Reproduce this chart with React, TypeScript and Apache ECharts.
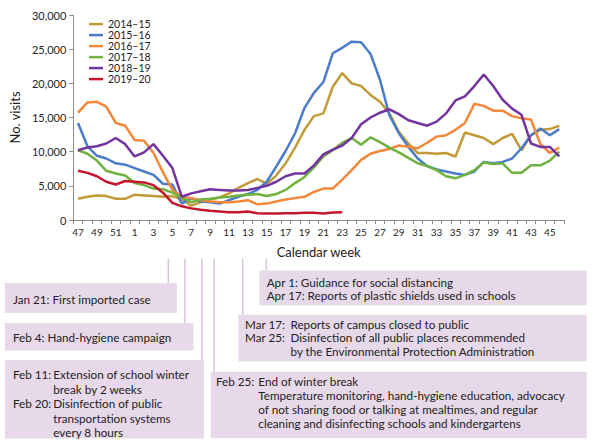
import React, { useEffect, useRef } from "react";
import * as echarts from "echarts";

const weeks = ["47","48","49","50","51","52","1","2","3","4","5","6","7","8","9","10","11","12","13","14","15","16","17","18","19","20","21","22","23","24","25","26","27","28","29","30","31","32","33","34","35","36","37","38","39","40","41","42","43","44","45","46"];

const seasonNames = ["2014–15", "2015–16", "2016–17", "2017–18", "2018–19", "2019–20"];
const seasonColors = ["#C29A38", "#4A7CC9", "#F5873A", "#6FB23F", "#7334A0", "#C6162E"];

const s1415 = [3100,3400,3600,3500,3100,3100,3700,3600,3500,3400,3500,3000,2100,2600,3000,3300,3900,4700,5400,6000,5300,6500,8300,10600,13200,15200,15600,19500,21500,20000,19600,18300,17300,15600,12900,11200,9800,9800,9700,9800,9300,12800,12400,12000,11100,12000,12600,10200,12400,13200,13300,13800];
const s1516 = [14200,10800,9400,9000,8300,8100,7600,7100,6600,5300,5200,2400,3200,2700,2600,2400,2900,3400,3800,4400,5600,7800,10100,12700,16400,18600,20200,24400,25200,26100,26000,24300,20500,15300,12700,10700,9000,7900,7400,7100,6800,6600,7100,8500,8300,8500,9000,10500,12400,13400,12400,13300];
const s1617 = [15700,17200,17300,16600,14200,13800,11700,11600,9800,7000,4400,3400,3200,2900,2700,2600,2600,2700,2900,2300,2400,2700,3000,3200,3400,4100,4600,4600,5900,7300,8800,9700,10100,10400,10900,10700,10500,11300,12200,12400,13200,14200,17000,16700,16000,16000,15200,14900,14700,11100,9800,10600];
const s1718 = [10200,9700,8700,7200,6800,6500,5400,5100,4600,4500,4000,3300,2600,3000,3100,3300,3400,3600,3700,3800,3500,3800,4400,5400,6300,7700,9300,10200,11300,12000,11000,12100,11400,10600,9900,9100,8300,7900,7300,6400,6100,6600,7300,8400,8200,8300,6900,6900,8000,8000,8700,10000];
const s1819 = [10200,10600,10800,11200,12000,11100,9300,9900,11100,9400,7600,3400,3900,4200,4500,4400,4300,4300,4400,4700,5000,5600,6400,6800,6800,8000,9600,10300,10900,12000,14000,15000,15700,16200,15500,14600,14200,13800,14400,15600,17500,18100,19600,21300,19600,17600,16300,15400,11200,10700,10700,9300];
const s1920 = [7200,6900,6400,5600,5200,5700,5600,5500,5100,4000,2500,2000,1700,1500,1350,1250,1150,1150,1250,1000,950,950,1000,1000,1050,1050,950,1100,1150];

const seriesValues = [s1415, s1516, s1617, s1718, s1819, s1920];

const yMax = 30000;
const yStep = 5000;

// Annotation texts
const annJan = ["Jan 21: First imported case"];
const annFeb4 = ["Feb 4: Hand-hygiene campaign"];
const annFeb11Heads = ["Feb 11:", "Feb 20:"];
const annFeb11Lines = ["Extension of school winter", "break by 2 weeks", "Disinfection of public", "transportation systems", "every 8 hours"];
const annFeb25Head = "Feb 25:";
const annFeb25Lines = ["End of winter break", "Temperature monitoring, hand-hygiene education, advocacy", "of not sharing food or talking at mealtimes, and regular", "cleaning and disinfecting schools and kindergartens"];
const annMarHeads = ["Mar 17:", "Mar 25:"];
const annMarLines = ["Reports of campus closed to public", "Disinfection of all public places recommended", "by the Environmental Protection Administration"];
const annApr = ["Apr 1: Guidance for social distancing", "Apr 17: Reports of plastic shields used in schools"];

const FONT = "Lato";
const BOX_FILL = "#E8D9EA";
const LINK = "#D8C3DB";
const TXT = "#222222";
const AF = `11.7px ${FONT}`;

function txt(x: number, y: number, s: string) {
  return { type: "text", x, y, silent: true, style: { text: s, fill: TXT, font: AF, verticalAlign: "middle", align: "left" } };
}
function rect(x: number, y: number, w: number, h: number) {
  return { type: "rect", silent: true, shape: { x, y, width: w, height: h }, style: { fill: BOX_FILL } };
}
function link(x: number, y1: number, y2: number) {
  return { type: "line", silent: true, shape: { x1: x, y1, x2: x, y2 }, style: { stroke: LINK, lineWidth: 1.5 } };
}

function buildGraphic() {
  const g: any[] = [];
  const top = 259;
  g.push(link(168.3, top, 283), link(185, top, 323), link(202, top, 360), link(214, top, 372), link(242.7, top, 315), link(266.3, top, 271));
  // Jan 21
  g.push(rect(5, 283, 172, 30));
  g.push(txt(13, 298.5, annJan[0]));
  // Feb 4
  g.push(rect(5, 323, 188.5, 27.5));
  g.push(txt(13, 336.8, annFeb4[0]));
  // Feb 11 / Feb 20
  g.push(rect(5, 360, 199, 78.5));
  const f11y = [374, 388.5, 403.2, 417.8, 432.2];
  g.push(txt(13, f11y[0], annFeb11Heads[0]), txt(13, f11y[2], annFeb11Heads[1]));
  annFeb11Lines.forEach((s, i) => g.push(txt(53.3, f11y[i], s)));
  // Feb 25
  g.push(rect(210.7, 371.7, 376, 66.3));
  const f25y = [380.5, 395, 409.2, 423.4];
  g.push(txt(216, f25y[0], annFeb25Head));
  annFeb25Lines.forEach((s, i) => g.push(txt(258.3, f25y[i], s)));
  // Mar
  g.push(rect(238.3, 314.7, 348.4, 46.6));
  const mary = [324, 337.3, 350.6];
  g.push(txt(245, mary[0], annMarHeads[0]), txt(245, mary[1], annMarHeads[1]));
  annMarLines.forEach((s, i) => g.push(txt(290.5, mary[i], s)));
  // Apr
  g.push(rect(259.3, 270.5, 327.4, 34.8));
  g.push(txt(266.7, 281.5, annApr[0]), txt(266.7, 295, annApr[1]));
  return g;
}

export default function App() {
  const ref = useRef<HTMLDivElement>(null);
  useEffect(() => {
    if (!ref.current) return;
    const chart = echarts.init(ref.current, null, { renderer: "svg" });
    chart.setOption({
      animation: false,
      backgroundColor: "#ffffff",
      textStyle: { fontFamily: FONT },
      grid: { left: 68, top: 15, width: 496, height: 205, containLabel: false },
      legend: {
        left: 89,
        top: 18.6,
        orient: "vertical",
        padding: 0,
        itemGap: 0,
        itemWidth: 14,
        itemHeight: 2.5,
        icon: "rect",
        textStyle: { fontSize: 10.5, lineHeight: 10.7, color: TXT, fontFamily: FONT },
        data: seasonNames,
      },
      xAxis: {
        type: "category",
        data: weeks,
        boundaryGap: true,
        name: "Calendar week",
        nameLocation: "middle",
        nameGap: 25,
        nameTextStyle: { fontSize: 13, color: "#1a1a1a", fontFamily: FONT },
        axisLine: { lineStyle: { color: "#8c8c8c", width: 1 } },
        axisTick: { show: true, interval: 0, length: 4, lineStyle: { color: "#8c8c8c" } },
        axisLabel: { interval: 1, fontSize: 10, color: "#262626", margin: 7, fontFamily: FONT },
        splitLine: { show: false },
      },
      yAxis: {
        type: "value",
        min: 0,
        max: yMax,
        interval: yStep,
        name: "No. visits",
        nameLocation: "middle",
        nameGap: 40,
        nameTextStyle: { fontSize: 13, color: "#1a1a1a", fontFamily: FONT },
        axisLine: { show: true, lineStyle: { color: "#8c8c8c", width: 1 } },
        axisTick: { show: true, length: 4, lineStyle: { color: "#8c8c8c" } },
        axisLabel: { fontSize: 11, color: "#262626", margin: 7, fontFamily: FONT, formatter: (v: number) => v.toLocaleString("en-US") },
        splitLine: { show: false },
      },
      series: seasonNames.map((name, i) => ({
        name,
        type: "line",
        data: seriesValues[i],
        showSymbol: false,
        symbol: "none",
        color: seasonColors[i],
        lineStyle: { width: 2.5, color: seasonColors[i] },
        connectNulls: false,
      })),
      graphic: buildGraphic(),
    });
    return () => chart.dispose();
  }, []);
  return <div ref={ref} style={{ width: 600, height: 443, position: "absolute", left: 0, top: 0 }} />;
}
